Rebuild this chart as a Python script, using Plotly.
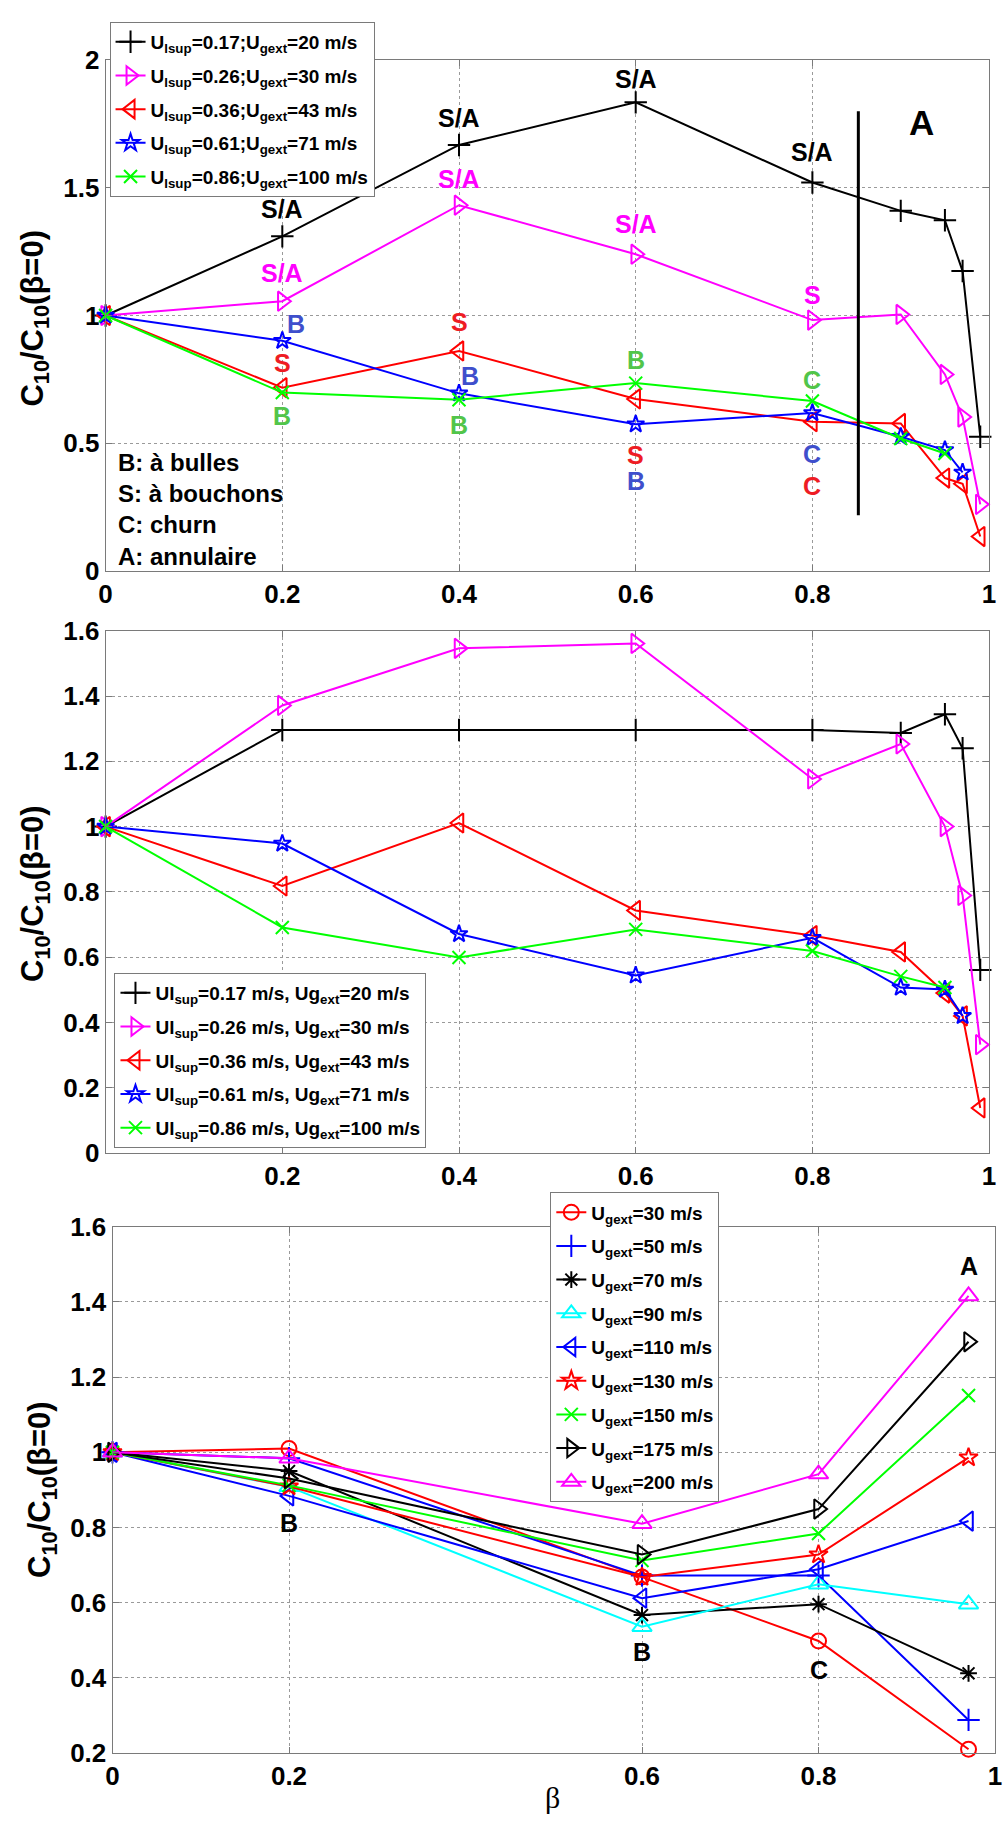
import plotly.graph_objects as go

# ---------------- data ----------------
# Panel 1
beta_p1 = [0, 0.2, 0.4, 0.6, 0.8, 0.9, 0.95, 0.97, 0.99]
p1_names = [
    "U<sub>lsup</sub>=0.17;U<sub>gext</sub>=20 m/s",
    "U<sub>lsup</sub>=0.26;U<sub>gext</sub>=30 m/s",
    "U<sub>lsup</sub>=0.36;U<sub>gext</sub>=43 m/s",
    "U<sub>lsup</sub>=0.61;U<sub>gext</sub>=71 m/s",
    "U<sub>lsup</sub>=0.86;U<sub>gext</sub>=100 m/s",
]
p1_black = [1.0, 1.31, 1.668, 1.835, 1.521, 1.41, 1.373, 1.174, 0.525]
p1_magenta = [1.0, 1.056, 1.432, 1.24, 0.982, 1.004, 0.769, 0.602, 0.26]
p1_red = [1.0, 0.717, 0.861, 0.673, 0.584, 0.577, 0.363, 0.341, 0.134]
p1_blue = [1.0, 0.901, 0.695, 0.574, 0.618, 0.525, 0.473, 0.385]
p1_green = [1.0, 0.698, 0.670, 0.735, 0.665, 0.518, 0.459]

# Panel 2
beta_p2 = [0, 0.2, 0.4, 0.6, 0.8, 0.9, 0.95, 0.97, 0.99]
p2_names = [
    "Ul<sub>sup</sub>=0.17 m/s, Ug<sub>ext</sub>=20 m/s",
    "Ul<sub>sup</sub>=0.26 m/s, Ug<sub>ext</sub>=30 m/s",
    "Ul<sub>sup</sub>=0.36 m/s, Ug<sub>ext</sub>=43 m/s",
    "Ul<sub>sup</sub>=0.61 m/s, Ug<sub>ext</sub>=71 m/s",
    "Ul<sub>sup</sub>=0.86 m/s, Ug<sub>ext</sub>=100 m/s",
]
p2_black = [1.0, 1.296, 1.296, 1.296, 1.296, 1.287, 1.344, 1.24, 0.561]
p2_magenta = [1.0, 1.371, 1.546, 1.561, 1.146, 1.253, 1.0, 0.789, 0.332]
p2_red = [1.0, 0.818, 1.011, 0.743, 0.666, 0.616, 0.49, 0.42, 0.138]
p2_blue = [1.0, 0.948, 0.671, 0.544, 0.659, 0.507, 0.501, 0.42]
p2_green = [1.0, 0.691, 0.599, 0.685, 0.619, 0.541, 0.507]

# Panel 3
beta_p3 = [0, 0.2, 0.6, 0.8, 0.97]
ugext_labels = ["30", "50", "70", "90", "110", "130", "150", "175", "200"]
u30 = [1.0, 1.01, 0.668, 0.498, 0.21]
u50 = [1.0, 0.984, 0.672, 0.672, 0.288]
u70 = [1.0, 0.95, 0.567, 0.596, 0.412]
u90 = [1.0, 0.908, 0.536, 0.649, 0.596]
u110 = [1.0, 0.884, 0.612, 0.689, 0.817]
u130 = [1.0, 0.909, 0.668, 0.728, 0.986]
u150 = [1.0, 0.912, 0.712, 0.784, 1.151]
u175 = [1.0, 0.93, 0.728, 0.849, 1.294]
u200 = [1.0, 0.984, 0.81, 0.942, 1.416]

# Regime labels (beta, value, text, colour)
BLUE_TXT = "#3F4FCC"
GREEN_TXT = "#52C54A"
p1_labels = [
    (0.2, 1.416, "S/A", "black"), (0.4, 1.774, "S/A", "black"),
    (0.6, 1.925, "S/A", "black"), (0.8, 1.642, "S/A", "black"),
    (0.2, 1.168, "S/A", "#FF00FF"), (0.4, 1.535, "S/A", "#FF00FF"),
    (0.6, 1.358, "S/A", "#FF00FF"), (0.8, 1.08, "S", "#FF00FF"),
    (0.216, 0.965, "B", BLUE_TXT), (0.412, 0.761, "B", BLUE_TXT),
    (0.6, 0.35, "B", BLUE_TXT), (0.8, 0.456, "C", BLUE_TXT),
    (0.2, 0.814, "S", "#EE1C24"), (0.4, 0.973, "S", "#EE1C24"),
    (0.6, 0.452, "S", "#EE1C24"), (0.8, 0.332, "C", "#EE1C24"),
    (0.2, 0.606, "B", GREEN_TXT), (0.4, 0.571, "B", GREEN_TXT),
    (0.6, 0.827, "B", GREEN_TXT), (0.8, 0.748, "C", GREEN_TXT),
]
p1_big_label = (0.924, 1.757, "A")
regime_boundary_beta = 0.852
regime_boundary_span = [0.217, 1.80]
p1_key_text = "B: à bulles<br>S: à bouchons<br>C: churn<br>A: annulaire"

p3_labels = [(0.2, 0.813, "B"), (0.6, 0.469, "B"), (0.8, 0.421, "C"), (0.97, 1.496, "A")]

# ---------------- figure ----------------
W, H = 1003, 1827
FONT = "Liberation Sans, Arial, Helvetica, sans-serif"

def px_x(p):
    return p / W

def px_y(p):
    return 1 - p / H

fig = go.Figure()

def add_series(x, y, name, color, symbol, size, xa, ya, legend, group, lw=2):
    fig.add_trace(go.Scatter(
        x=x, y=y, name=name, mode="lines+markers",
        line=dict(color=color, width=lw),
        marker=dict(symbol=symbol, size=size, color=color,
                    line=dict(color=color, width=2)),
        xaxis=xa, yaxis=ya, legend=legend, legendgroup=group,
        cliponaxis=False,
    ))

p1_series = [
    (p1_black, "black", "cross-thin-open", 16),
    (p1_magenta, "#FF00FF", "triangle-right-open", 17),
    (p1_red, "#FF0000", "triangle-left-open", 17),
    (p1_blue, "#0000FF", "star-open", 13),
    (p1_green, "#00FF00", "x-thin-open", 13),
]
for i, (vals, c, s, sz) in enumerate(p1_series):
    add_series(beta_p1[:len(vals)], vals, p1_names[i], c, s, sz, "x", "y", "legend", f"a{i}")

p2_series = [
    (p2_black, "black", "cross-thin-open", 16),
    (p2_magenta, "#FF00FF", "triangle-right-open", 17),
    (p2_red, "#FF0000", "triangle-left-open", 17),
    (p2_blue, "#0000FF", "star-open", 13),
    (p2_green, "#00FF00", "x-thin-open", 13),
]
for i, (vals, c, s, sz) in enumerate(p2_series):
    add_series(beta_p2[:len(vals)], vals, p2_names[i], c, s, sz, "x2", "y2", "legend2", f"b{i}")

p3_series = [
    (u30, "#FF0000", "circle-open", 15),
    (u50, "#0000FF", "cross-thin-open", 16),
    (u70, "black", "asterisk-open", 14),
    (u90, "#00FFFF", "triangle-up-open", 17),
    (u110, "#0000FF", "triangle-left-open", 17),
    (u130, "#FF0000", "star-open", 14),
    (u150, "#00FF00", "x-thin-open", 13),
    (u175, "black", "triangle-right-open", 17),
    (u200, "#FF00FF", "triangle-up-open", 17),
]
for i, (vals, c, s, sz) in enumerate(p3_series):
    add_series(beta_p3, vals, f"U<sub>gext</sub>={ugext_labels[i]} m/s", c, s, sz,
               "x3", "y3", "legend3", f"c{i}")

# ---------------- axes ----------------
GRID = dict(showgrid=True, gridcolor="#9a9a9a", griddash="dot", gridwidth=1,
            showline=True, linecolor="#7a7a7a", linewidth=1, mirror="ticks",
            ticks="inside", ticklen=6, tickcolor="#7a7a7a", zeroline=False,
            tickfont=dict(family=FONT, size=26, color="black", weight="bold"),
            ticklabeloverflow="allow", fixedrange=True)

def fmt(v):
    return "0" if v == 0 else ("1" if v == 1 else ("2" if v == 2 else f"{v:g}"))

x1_ticks = [0, 0.2, 0.4, 0.6, 0.8, 1]
y1_ticks = [0, 0.5, 1, 1.5, 2]
x2_ticks = [0.2, 0.4, 0.6, 0.8, 1]
y2_ticks = [0, 0.2, 0.4, 0.6, 0.8, 1, 1.2, 1.4, 1.6]
x3_ticks = [0, 0.2, 0.6, 0.8, 1]
y3_ticks = [0.2, 0.4, 0.6, 0.8, 1, 1.2, 1.4, 1.6]

fig.update_layout(
    xaxis=dict(domain=[px_x(100), px_x(996)], range=[0, 1], anchor="y",
               tickvals=x1_ticks, ticktext=[fmt(v) for v in x1_ticks], **GRID),
    yaxis=dict(domain=[px_y(565), px_y(46)], range=[0, 2], anchor="x",
               tickvals=y1_ticks, ticktext=[fmt(v) for v in y1_ticks], **GRID),
    xaxis2=dict(domain=[px_x(100), px_x(996)], range=[0, 1], anchor="y2",
                tickvals=x2_ticks, ticktext=[fmt(v) for v in x2_ticks], **GRID),
    yaxis2=dict(domain=[px_y(1157), px_y(626)], range=[0, 1.6], anchor="x2",
                tickvals=y2_ticks, ticktext=[fmt(v) for v in y2_ticks], **GRID),
    xaxis3=dict(domain=[px_x(107), px_x(1002)], range=[0, 1], anchor="y3",
                tickvals=x3_ticks, ticktext=[fmt(v) for v in x3_ticks], **GRID),
    yaxis3=dict(domain=[px_y(1767), px_y(1232)], range=[0.2, 1.6], anchor="x3",
                tickvals=y3_ticks, ticktext=[fmt(v) for v in y3_ticks], **GRID),
)

LEG = dict(bgcolor="white", bordercolor="#7a7a7a", borderwidth=1,
           font=dict(family=FONT, size=19, color="black", weight="bold"),
           xanchor="left", yanchor="top", tracegroupgap=6, itemwidth=30)
fig.update_layout(
    legend=dict(x=px_x(104), y=px_y(7), **LEG),
    legend2=dict(x=px_x(109), y=px_y(974), **LEG),
    legend3=dict(x=px_x(551), y=px_y(1197), **LEG),
)

# ---------------- annotations ----------------
ann = []
for bx_, v, t, c in p1_labels:
    ann.append(dict(x=bx_, y=v, xref="x", yref="y", text=t, showarrow=False,
                    font=dict(family=FONT, size=25, color=c, weight="bold")))
ann.append(dict(x=p1_big_label[0], y=p1_big_label[1], xref="x", yref="y",
                text=p1_big_label[2], showarrow=False,
                font=dict(family=FONT, size=35, color="black", weight="bold")))
ann.append(dict(x=px_x(111), y=px_y(503), xref="paper", yref="paper",
                xanchor="left", yanchor="middle", align="left",
                text=p1_key_text, showarrow=False,
                font=dict(family=FONT, size=24, color="black", weight="bold")))
for bx_, v, t in p3_labels:
    ann.append(dict(x=bx_, y=v, xref="x3", yref="y3", text=t, showarrow=False,
                    font=dict(family=FONT, size=25, color="black", weight="bold")))

ytitle = "C<sub>10</sub>/C<sub>10</sub>(β=0)"
for xp, yp in [(28, 308), (29, 893), (36, 1499)]:
    ann.append(dict(x=px_x(xp), y=px_y(yp), xref="paper", yref="paper",
                    text=ytitle, textangle=-90, showarrow=False,
                    xanchor="center", yanchor="middle",
                    font=dict(family=FONT, size=31, color="black", weight="bold")))
ann.append(dict(x=px_x(553), y=px_y(1812), xref="paper", yref="paper",
                text="β", showarrow=False, xanchor="center", yanchor="middle",
                font=dict(family="Liberation Serif, DejaVu Serif, serif", size=30, color="black")))

fig.update_layout(annotations=ann)

fig.add_shape(type="line", xref="x", yref="y",
              x0=regime_boundary_beta, x1=regime_boundary_beta,
              y0=regime_boundary_span[0], y1=regime_boundary_span[1],
              line=dict(color="black", width=3))

fig.update_layout(
    width=W, height=H, autosize=False,
    margin=dict(l=0, r=0, t=0, b=0),
    paper_bgcolor="white", plot_bgcolor="white",
    showlegend=True,
)

fig.write_html("out.html",
               config={"displayModeBar": False, "staticPlot": True},
               post_script="document.body.style.margin='0';document.body.style.overflow='hidden';")
